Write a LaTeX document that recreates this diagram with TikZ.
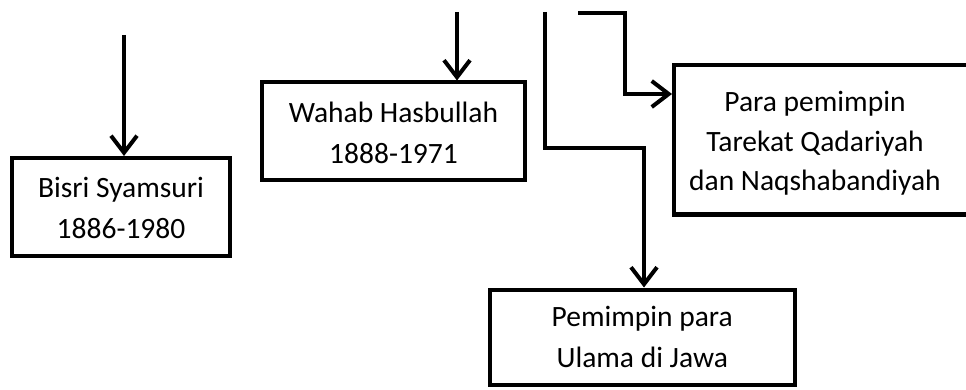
\documentclass[tikz,border=0pt]{standalone}
\usepackage{fontspec}
\setmainfont{Carlito}
\usetikzlibrary{arrows.meta}
\tikzset{
  box/.style={draw=black, line width=4pt, fill=white, align=center, inner sep=0pt,
    font=\fontsize{29.5}{41}\selectfont},
  boxtext/.style={align=center, inner sep=0pt, font=\fontsize{29.5}{39.5}\selectfont},
  arr/.style={draw=black, line width=4pt, line join=miter,
    -{Straight Barb[length=17pt,width=26pt]}}
}
\begin{document}
\begin{tikzpicture}[x=1pt,y=-1pt]
\useasboundingbox (0,0) rectangle (966,390);
\clip (0,0) rectangle (966,390);
% boxes
\node[box, minimum width=218, minimum height=98] (bisri) at (121,207)
  {\rule{0pt}{23pt}Bisri Syamsuri\\1886-1980};
\node[box, minimum width=263, minimum height=97.5] (wahab) at (393.5,131.25)
  {\rule{0pt}{23pt}Wahab Hasbullah\\1888-1971};
\node[box, minimum width=320, minimum height=149] (tarekat) at (834,140) {};
\node[boxtext] (tarekattext) at (815,142)
  {\rule{0pt}{23pt}Para pemimpin\\Tarekat Qadariyah\\dan Naqshabandiyah};
\node[box, minimum width=305.5, minimum height=95.5] (ulama) at (642.25,337.25)
  {Pemimpin para\\Ulama di Jawa};
% connector start points and bends
\coordinate (s1) at (124,35);
\coordinate (s2) at (457,12);
\coordinate (s3) at (578,13);
\coordinate (k3) at (624.5,94);
\coordinate (s4) at (544.5,12);
\coordinate (k4) at (644,148.5);
% connectors
\draw[arr] (s1) -- (s1 |- bisri.north);
\draw[arr] (s2) -- (s2 |- wahab.north);
\draw[arr] (s3) -| (k3) -- (k3 -| tarekat.west);
\draw[arr] (s4) |- (k4) -- (k4 |- ulama.north);
\end{tikzpicture}
\end{document}
